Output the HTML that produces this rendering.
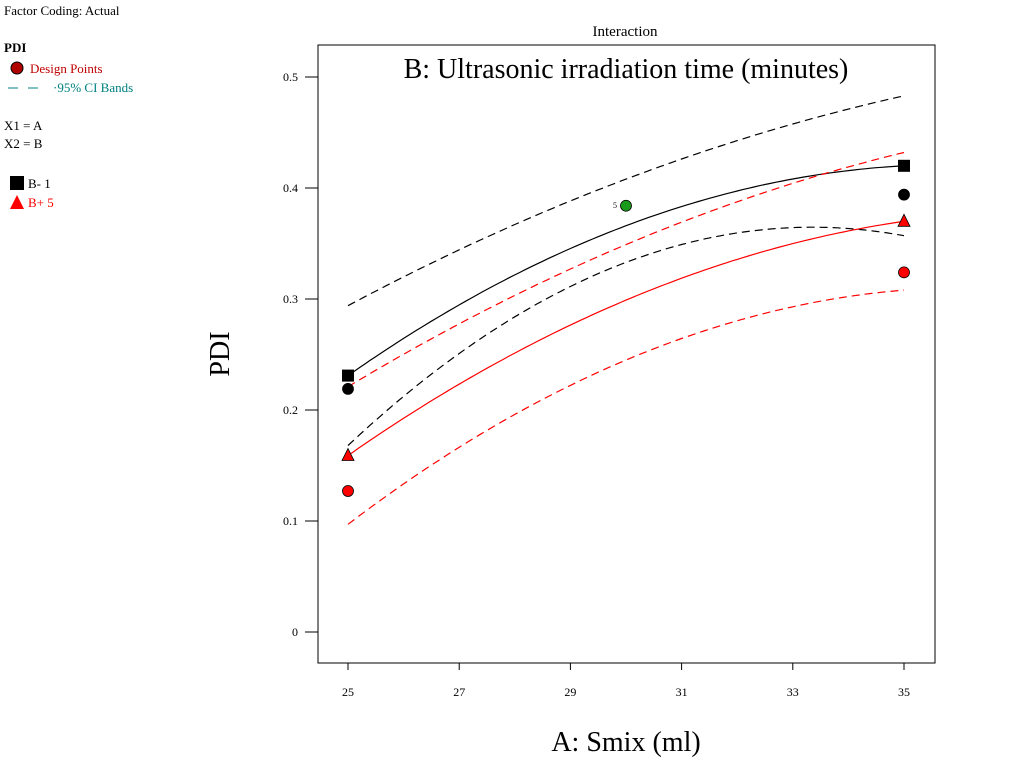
<!DOCTYPE html>
<html><head><meta charset="utf-8"><style>
body{margin:0;background:#fff;font-family:"Liberation Serif",serif;}
</style></head><body>
<svg width="1024" height="768" style="display:block">
<g font-family="Liberation Serif, serif">
<text x="4" y="15" font-size="13">Factor Coding: Actual</text>
<text x="4" y="52" font-size="13" font-weight="bold">PDI</text>
<circle cx="17" cy="68" r="6" fill="#b00000" stroke="#000"/>
<text x="30" y="73" font-size="13" fill="#c00000">Design Points</text>
<line x1="8" y1="88" x2="48" y2="88" stroke="#008080" stroke-dasharray="10,10"/>
<text x="53" y="92" font-size="13" fill="#008080">·95% CI Bands</text>
<text x="4" y="130" font-size="13">X1 = A</text>
<text x="4" y="148" font-size="13">X2 = B</text>
<rect x="10" y="176" width="14" height="14" fill="#000"/>
<text x="28" y="188" font-size="13">B- 1</text>
<polygon points="17,195 24,209 10,209" fill="red"/>
<text x="28" y="207" font-size="13" fill="red">B+ 5</text>
<text x="625" y="36" font-size="15" text-anchor="middle">Interaction</text>
<rect x="318" y="45" width="617" height="618" fill="none" stroke="#000"/>
<text x="626" y="78" font-size="28" text-anchor="middle">B: Ultrasonic irradiation time (minutes)</text>
<text x="626" y="751" font-size="28" text-anchor="middle">A: Smix (ml)</text>
<text transform="translate(229,354) rotate(-90)" font-size="28" text-anchor="middle">PDI</text>
<g id="axes"></g>
<g id="marks"></g>
</g>
</svg>
<script>
const xTicks=[25,27,29,31,33,35];
const yTicks=[0,0.1,0.2,0.3,0.4,0.5];
const yTickLabels=["0","0.1","0.2","0.3","0.4","0.5"];
const curveA=[25,30,35];
const blackFit=[0.231,0.366,0.42];
const blackUpper=[0.294,0.408,0.483];
const blackLower=[0.168,0.333,0.357];
const redFit=[0.159,0.299,0.37];
const redUpper=[0.221,0.349,0.432];
const redLower=[0.097,0.245,0.308];
const blackPointsA=[25,35];const blackPointsV=[0.219,0.394];
const redPointsA=[25,35];const redPointsV=[0.127,0.324];
const greenPointA=[30];const greenPointV=[0.384];const greenPointLabel=["5"];
const squaresA=[25,35];const squaresV=[0.231,0.42];
const trianglesA=[25,35];const trianglesV=[0.159,0.37];
const NS="http://www.w3.org/2000/svg";
const X=a=>348+(a-25)*55.6;
const Y=v=>632-v*1110;
const axes=document.getElementById('axes'),marks=document.getElementById('marks');
function mk(tag,attrs,parent){const e=document.createElementNS(NS,tag);for(const k in attrs)e.setAttribute(k,attrs[k]);parent.appendChild(e);return e;}
xTicks.forEach(t=>{
 const l=mk('line',{x1:X(t),x2:X(t),y1:663,y2:670,stroke:'#000'},axes);
 
 
 const tx=mk('text',{x:X(t),y:696,'font-size':12,'text-anchor':'middle'},axes);tx.textContent=t;
 
 
});
yTicks.forEach((t,i)=>{
 const l=mk('line',{x1:305,x2:318,y1:Y(t),y2:Y(t),stroke:'#000'},axes);
 
 
 const tx=mk('text',{x:298,y:Y(t)+4,'font-size':12,'text-anchor':'end'},axes);tx.textContent=yTickLabels[i];
 
 
});
function curve(vals,color,dash,name){
 const [a0,a1,a2]=curveA,[v0,v1,v2]=vals;
 const f=a=>v0*(a-a1)*(a-a2)/((a0-a1)*(a0-a2))+v1*(a-a0)*(a-a2)/((a1-a0)*(a1-a2))+v2*(a-a0)*(a-a1)/((a2-a0)*(a2-a1));
 let d='';for(let i=0;i<=100;i++){const a=a0+(a2-a0)*i/100;d+=(i?'L':'M')+X(a).toFixed(1)+','+Y(f(a)).toFixed(1);}
 const p=mk('path',{d:d,fill:'none',stroke:color,'stroke-width':1.2,'stroke-dasharray':dash?'8,5':'none'},marks);
 
 
}
curve(blackUpper,'#000',true,'b-minus-ci-upper');
curve(blackLower,'#000',true,'b-minus-ci-lower');
curve(blackFit,'#000',false,'b-minus-fit-line');
curve(redUpper,'red',true,'b-plus-ci-upper');
curve(redLower,'red',true,'b-plus-ci-lower');
curve(redFit,'red',false,'b-plus-fit-line');
squaresA.forEach((a,i)=>{const r=mk('rect',{x:X(a)-6,y:Y(squaresV[i])-6,width:12,height:12,fill:'#000'},marks);
 
 });
trianglesA.forEach((a,i)=>{const x=X(a),y=Y(trianglesV[i]);const p=mk('polygon',{points:`${x},${y-7} ${x+6},${y+5} ${x-6},${y+5}`,fill:'red',stroke:'#000','stroke-width':0.8},marks);
 
 });
function pts(A,V,fill,name){A.forEach((a,i)=>{const c=mk('circle',{cx:X(a),cy:Y(V[i]),r:5.5,fill:fill,stroke:'#000','stroke-width':0.8},marks);
 
 });}
pts(blackPointsA,blackPointsV,'#000','b-minus-design-point');
pts(redPointsA,redPointsV,'red','b-plus-design-point');
pts(greenPointA,greenPointV,'#1a9a1a','center-design-point');
const gl=mk('text',{x:X(greenPointA[0])-13,y:Y(greenPointV[0])+2,'font-size':8},marks);gl.textContent=greenPointLabel[0];


</script>
</body></html>
